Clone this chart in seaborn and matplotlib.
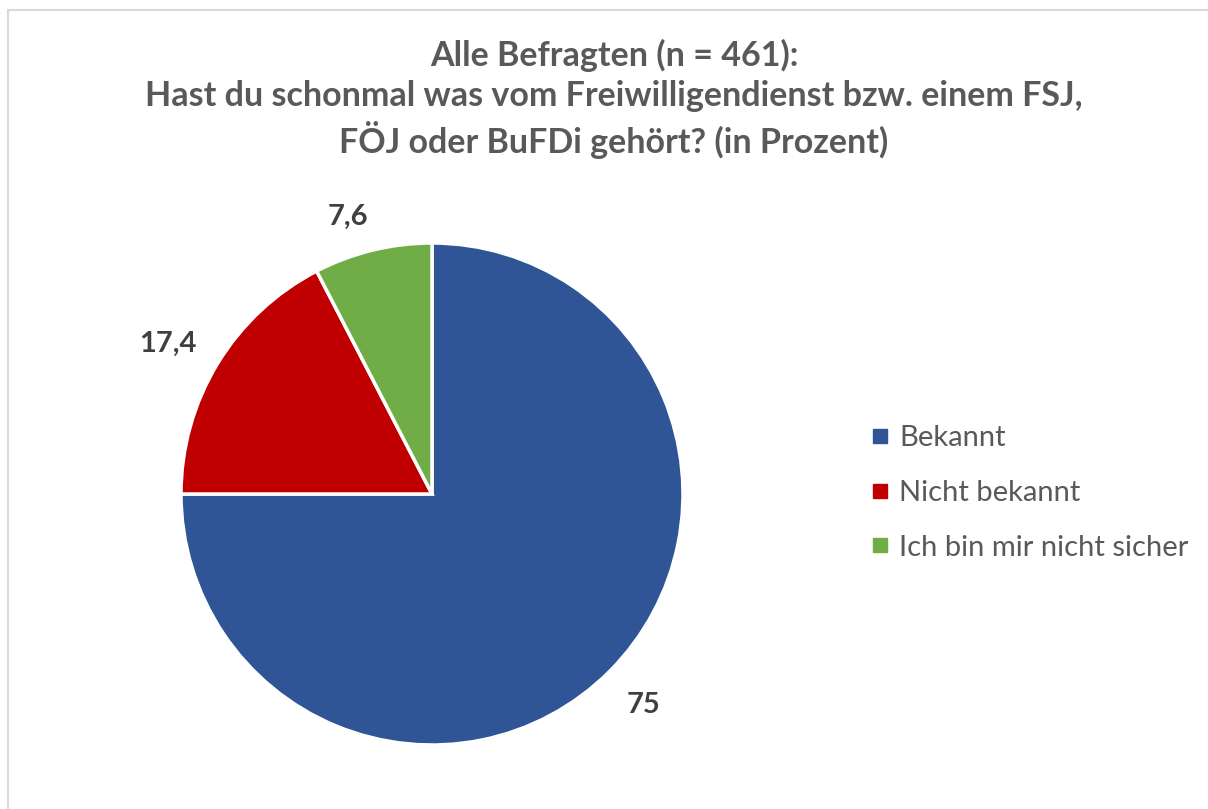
import matplotlib
matplotlib.use("Agg")
import matplotlib.pyplot as plt
from matplotlib.lines import Line2D
from matplotlib.patches import Rectangle
import seaborn as sns
import numpy as np

categories = ["Bekannt", "Nicht bekannt", "Ich bin mir nicht sicher"]
values = [75, 17.4, 7.6]
value_labels = ["75", "17,4", "7,6"]
colors = ["#2F5597", "#C00000", "#70AD47"]
title_lines = ["Alle Befragten (n = 461):",
               "Hast du schonmal was vom Freiwilligendienst bzw. einem FSJ,",
               "FÖJ oder BuFDi gehört? (in Prozent)"]

sns.set_theme(style="white")
plt.rcParams['font.family'] = ['Lato', 'DejaVu Sans']

W, H = 1208, 809
fig = plt.figure(figsize=(W / 100, H / 100), dpi=100)
fig.patch.set_facecolor("white")

# chart border (top/left visible)
fig.patches.append(Rectangle((8 / W, -0.05), 1.2, 1 - 10 / H + 0.05,
                             transform=fig.transFigure, fill=False,
                             edgecolor="#D9D9D9", linewidth=1.5))

cx, cy, r = 432, 494, 251
ax = fig.add_axes([(cx - r) / W, (H - cy - r) / H, 2 * r / W, 2 * r / H])
wedges, _ = ax.pie(values, colors=colors, startangle=90, counterclock=False,
                   radius=1.0, wedgeprops=dict(edgecolor="white", linewidth=2.5))
ax.set_xlim(-1, 1)
ax.set_ylim(-1, 1)
ax.set_aspect("equal")
ax.axis("off")

# data labels, placed outside each wedge
label_dist = [1.19, 1.21, 1.153]
angle_shift = [0, 1.7, 3.2]
for w, lab, d, s in zip(wedges, value_labels, label_dist, angle_shift):
    ang = np.deg2rad((w.theta1 + w.theta2) / 2 + s)
    ax.text(d * np.cos(ang), d * np.sin(ang), lab, ha="center", va="center",
            fontsize=21, fontweight="bold", color="#404040", clip_on=False)

fig.text(614 / W, 1 - 99 / H, "\n".join(title_lines), ha="center", va="center",
         fontsize=24.5, fontweight="bold", color="#595959", linespacing=1.3)

handles = [Line2D([0], [0], marker="s", linestyle="", markersize=10,
                  markerfacecolor=c, markeredgecolor=c) for c in colors]
leg = fig.legend(handles, categories, loc="center left",
                 bbox_to_anchor=(852 / W, 1 - 493 / H), frameon=False,
                 fontsize=21, labelcolor="#595959", handletextpad=0.22,
                 labelspacing=0.98, handlelength=0.9, borderpad=0)

fig.savefig("out.png", dpi=100, facecolor="white")
